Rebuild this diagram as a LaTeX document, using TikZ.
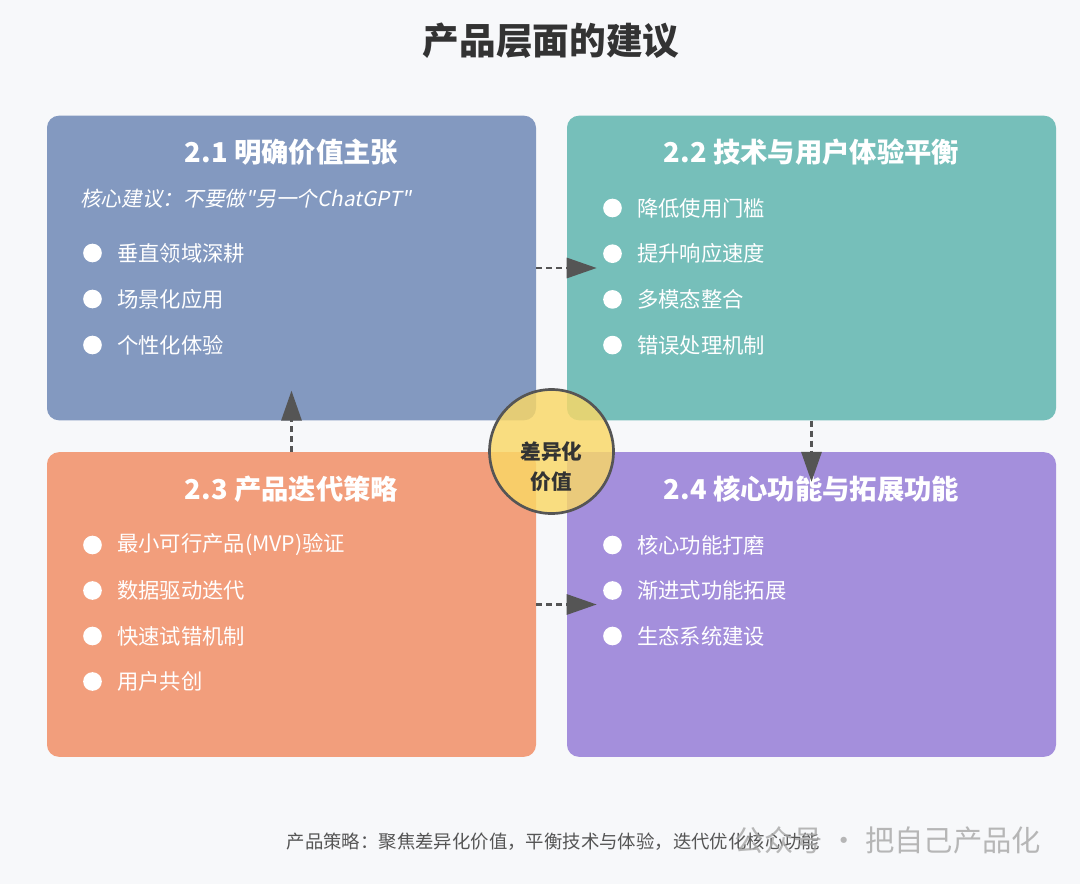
\documentclass[tikz,border=0pt]{standalone}
\usepackage{fontspec}
\setmainfont{Noto Sans CJK SC}[AutoFakeSlant=0.2]
\newfontfamily\subfont{Noto Sans CJK SC}[AutoFakeSlant=0.2]
\usetikzlibrary{positioning,arrows.meta}

\definecolor{bgcol}{HTML}{F7F8FA}
\definecolor{boxA}{HTML}{8399C0}
\definecolor{boxB}{HTML}{76BFBA}
\definecolor{boxC}{HTML}{F29E7C}
\definecolor{boxD}{HTML}{A48FDC}
\definecolor{hubcol}{HTML}{FAD866}
\definecolor{ink}{HTML}{555555}
\definecolor{titlecol}{HTML}{333333}

\tikzset{
  panel/.style={rounded corners=9pt, minimum width=366.75pt, minimum height=228.5pt, inner sep=0pt},
  head/.style={text=white, font=\bfseries\fontsize{20.5}{24}\selectfont},
  dot/.style={circle, fill=white, minimum size=14pt, inner sep=0pt},
  item/.style={text=white, font=\fontsize{16}{19}\selectfont, inner sep=0pt},
  flow/.style={draw=ink, line width=2.2pt, dash pattern=on 4.5pt off 3pt,
    -{Triangle[length=22.5pt,width=15pt]}},
}

\begin{document}
\begin{tikzpicture}[x=0.75pt,y=-0.75pt]
  % 背景
  \fill[bgcol] (0,0) rectangle (1080,884);

  % 标题
  \node[text=titlecol, font=\bfseries\fontsize{27.5}{32}\selectfont] (title) at (551,41) {产品层面的建议};

  % 四个方块
  \node[panel, fill=boxA] (b1) at (291.5,268) {};
  \node[panel, fill=boxB] (b2) at (811.5,268) {};
  \node[panel, fill=boxC] (b3) at (291.5,604.5) {};
  \node[panel, fill=boxD] (b4) at (811.5,604.5) {};

  % 方块标题
  \node[head] (h1) at (291.5,152) {2.1 明确价值主张};
  \node[head] (h2) at (811.5,152) {2.2 技术与用户体验平衡};
  \node[head] (h3) at (291.5,489) {2.3 产品迭代策略};
  \node[head] (h4) at (811.5,489) {2.4 核心功能与拓展功能};

  % 核心建议
  \node[item, anchor=west, font=\subfont\itshape\fontsize{15.5}{18}\selectfont] (sub1) at (80,199) {核心建议：不要做"另一个ChatGPT"};

  % 各方块的条目
  \foreach \t [count=\i] in {垂直领域深耕,场景化应用,个性化体验} {
    \node[dot] (da\i) at (92.5,253+46*\i-46) {};
    \node[item, right=11pt of da\i] (ta\i) {\t};
  }
  \foreach \t [count=\i] in {降低使用门槛,提升响应速度,多模态整合,错误处理机制} {
    \node[dot] (db\i) at (612.5,208+45.7*\i-45.7) {};
    \node[item, right=11pt of db\i] (tb\i) {\t};
  }
  \foreach \t [count=\i] in {最小可行产品(MVP)验证,数据驱动迭代,快速试错机制,用户共创} {
    \node[dot] (dc\i) at (92.5,545+45.5*\i-45.5) {};
    \node[item, right=11pt of dc\i] (tc\i) {\t};
  }
  \foreach \t [count=\i] in {核心功能打磨,渐进式功能拓展,生态系统建设} {
    \node[dot] (dd\i) at (612.5,545+45.5*\i-45.5) {};
    \node[item, right=11pt of dd\i] (td\i) {\t};
  }

  % 方块之间的虚线箭头
  \draw[flow] (b1.east) -- ([xshift=22.5pt]b2.west);
  \draw[flow] (b2.south) -- ([yshift=-22.5pt]b4.north);
  \draw[flow] (b3.north) -- ([yshift=22.5pt]b1.south);
  \draw[flow] (b3.east) -- ([xshift=22.5pt]b4.west);

  % 中间的圆
  \node[circle, draw=ink, line width=2pt, fill=hubcol, fill opacity=0.82, text opacity=1,
        minimum size=93pt] (hub) at (551.5,451.5) {};
  \node[align=center, text=titlecol, font=\bfseries\fontsize{15.5}{22.5}\selectfont] (hubtext) at (551.5,466.5) {差异化\\价值};

  % 底部说明
  \node[text=ink, font=\fontsize{13.8}{16}\selectfont] (foot) at (553.5,842) {产品策略：聚焦差异化价值，平衡技术与体验，迭代优化核心功能};
  \node[text=gray!70, opacity=0.8, font=\fontsize{22}{26}\selectfont, anchor=east] (mark) at (1046,840) {公众号 · 把自己产品化};
\end{tikzpicture}
\end{document}
